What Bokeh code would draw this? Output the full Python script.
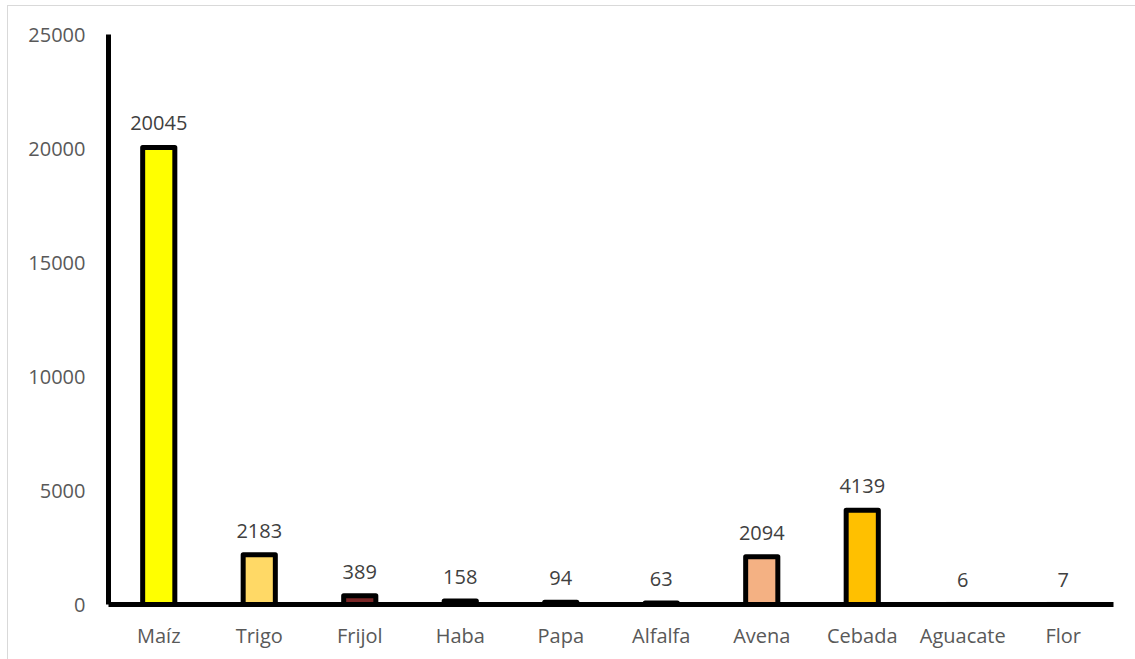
from bokeh.plotting import figure
from bokeh.models import FactorRange, Range1d, FixedTicker, ColumnDataSource
from bokeh.core.properties import value
from bokeh.embed import file_html
from bokeh.resources import INLINE

# Superficie sembrada por cultivo
cultivos = ["Maíz", "Trigo", "Frijol", "Haba", "Papa", "Alfalfa",
            "Avena", "Cebada", "Aguacate", "Flor"]
superficie = [20045, 2183, 389, 158, 94, 63, 2094, 4139, 6, 7]
colores = ["#FFFF00", "#FFD966", "#7B2626", "#1a1a1a", "#1a1a1a", "#1a1a1a",
           "#F4B183", "#FFC000", "#A9D18E", "#C9C9C9"]
bordes = ["black"] * 8 + ["#dcdcdc", "#dcdcdc"]
y_ticks = [0, 5000, 10000, 15000, 20000, 25000]

FONT = "Open Sans"

src = ColumnDataSource(dict(
    x=cultivos, top=superficie, fill=colores, line=bordes,
    label=[str(v) for v in superficie],
))

p = figure(
    x_range=FactorRange(*cultivos, range_padding=0),
    y_range=Range1d(0, 25000),
    width=1128, height=654,
    output_backend="svg", toolbar_location=None,
    min_border=0,
)
p.min_border_left = 100
p.min_border_right = 23
p.min_border_top = 28
p.min_border_bottom = 56
p.styles = {
    "margin-left": "7px", "margin-top": "5px",
    "border-left": "1px solid #d9d9d9", "border-top": "1px solid #d9d9d9",
}
p.background_fill_color = "white"
p.border_fill_color = "white"
p.outline_line_color = None
p.grid.grid_line_color = None

p.vbar(x="x", top="top", width=0.32, source=src,
       fill_color="fill", line_color="line", line_width=5, line_join="round")

p.text(x="x", y="top", text="label", source=src,
       text_align="center", text_baseline="bottom", y_offset=-17,
       text_font=value(FONT), text_font_size="20px", text_color="#404040")

for ax in (p.xaxis[0], p.yaxis[0]):
    ax.axis_line_color = "black"
    ax.axis_line_width = 5
    ax.major_tick_line_color = None
    ax.minor_tick_line_color = None
    ax.major_label_text_font = FONT
    ax.major_label_text_font_size = "20px"
    ax.major_label_text_color = "#595959"

p.yaxis[0].ticker = FixedTicker(ticks=y_ticks)
p.yaxis[0].major_label_standoff = 17
p.xaxis[0].major_label_standoff = 11

open("out.html", "w").write(file_html(p, INLINE))
